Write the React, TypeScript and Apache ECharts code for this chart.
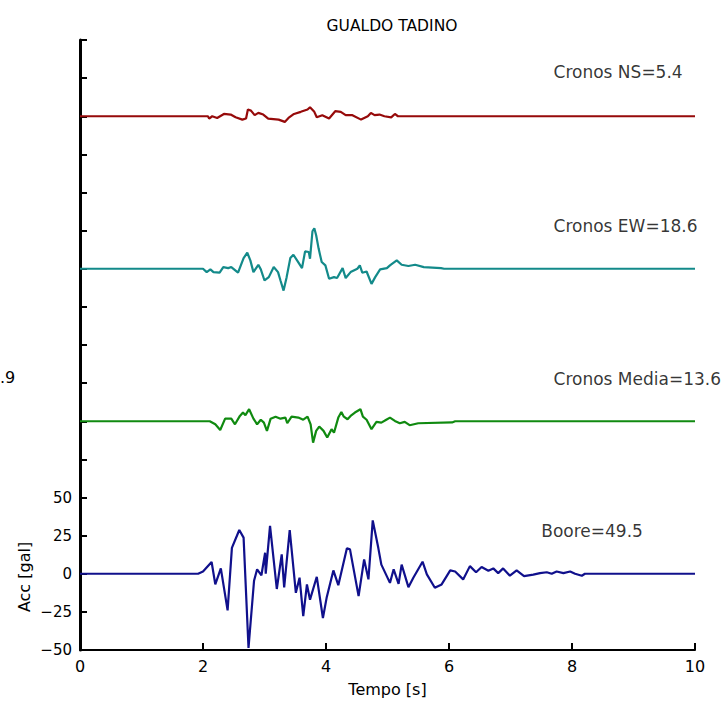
import React, { useEffect, useRef } from "react";
import * as echarts from "echarts";

const TITLE = "GUALDO TADINO";
const X_NAME = "Tempo [s]";
const Y_NAME = "Acc [gal]";
const X_TICKS = [0, 2, 4, 6, 8, 10];
const Y_LABELLED = [-50, -25, 0, 25, 50];

const SERIES_NAMES = ["Cronos NS=5.4", "Cronos EW=18.6", "Cronos Media=13.6", "Boore=49.5"];
const OFFSETS = [300, 200, 100, 0];
const COLORS = ["#960a0a", "#138a8a", "#108a10", "#10108c"];
const LABEL_POS = [
  [7.7, 329],
  [7.7, 228],
  [7.7, 128],
  [7.5, 28],
];

const NS: [number, number][] = [
  [0, 0], [2.08, 0], [2.1, -1.5], [2.15, 0], [2.23, -1.1], [2.34, 1.5], [2.45, 1.1], [2.53, -0.7],
  [2.64, -2.2], [2.7, -1.5], [2.73, 4.4], [2.78, 3.7], [2.84, 0.7], [2.9, 2.2], [2.98, 1.1],
  [3.06, -1.5], [3.23, -2.2], [3.33, -3.7], [3.39, -1.1], [3.48, 1.5], [3.59, 2.9], [3.7, 4.4],
  [3.74, 5.9], [3.81, 2.9], [3.85, -0.7], [3.94, 0.7], [4.05, -1.5], [4.15, 3.3], [4.24, 2.9],
  [4.32, 0.7], [4.43, 0.7], [4.57, -2.2], [4.68, 0], [4.73, 2.2], [4.79, 0.7], [4.87, 1.1],
  [4.95, 0], [5.06, -0.7], [5.12, 1.5], [5.17, 0], [10, 0],
];

const EW: [number, number][] = [
  [0, 0], [2.0, 0], [2.06, -2.2], [2.12, -0.4], [2.17, -2.2], [2.27, -2.6], [2.33, 1.1], [2.41, 0.4],
  [2.46, 1.1], [2.57, -2.6], [2.66, 7], [2.72, 10.5], [2.77, 5.5], [2.82, -2.2], [2.9, 2.6],
  [2.94, -0.4], [3.0, -7.7], [3.07, -5.5], [3.15, 1.1], [3.22, -2.2], [3.26, -7.7], [3.31, -14.3],
  [3.36, -5.5], [3.42, 7], [3.47, 9.2], [3.54, 4.8], [3.61, 0.4], [3.66, 11.4], [3.72, 11],
  [3.74, 6.6], [3.78, 24.6], [3.81, 26.5], [3.84, 22], [3.88, 13.2], [3.93, 4.4], [3.99, 2.2], [4.05, -6.6],
  [4.13, -5.5], [4.18, -6.1], [4.27, 0.4], [4.32, -6.1], [4.4, -2.2], [4.51, 0], [4.55, 2.2],
  [4.59, -2.6], [4.66, -1.8], [4.74, -9.9], [4.8, -5.5], [4.88, -0.4], [4.99, 0.4], [5.04, 2.2],
  [5.15, 5.5], [5.23, 2.6], [5.34, 1.8], [5.45, 2.6], [5.59, 1.1], [5.87, 0.4], [5.92, 0], [10, 0],
];

const MEDIA: [number, number][] = [
  [0, 0], [2.11, 0], [2.2, -2], [2.28, -5.7], [2.36, 1.7], [2.46, 1.7], [2.52, -2], [2.6, 3.5],
  [2.65, 5.7], [2.69, 4], [2.75, 7.9], [2.82, 1.7], [2.88, -2], [2.94, 1], [2.99, -0.9],
  [3.04, -6.3], [3.1, 1.7], [3.18, 3], [3.26, 1.7], [3.34, 2.4], [3.37, -1.3], [3.44, 3],
  [3.55, 2.4], [3.63, 1], [3.7, 3], [3.75, -2], [3.79, -14], [3.84, -6.3], [3.89, -3.5],
  [3.96, -6.3], [4.02, -10.7], [4.09, -5.2], [4.13, -7.5], [4.2, 2.4], [4.25, 6.1], [4.29, 3],
  [4.35, 1.3], [4.4, 3.5], [4.47, 5.7], [4.56, 7.9], [4.6, 3], [4.66, 1], [4.74, -5.2],
  [4.82, -0.4], [4.9, -0.9], [4.98, 1], [5.04, 2.4], [5.12, 0.2], [5.2, -1.3], [5.28, -0.4],
  [5.36, -2.6], [5.5, -1.3], [6.05, -0.8], [6.1, 0], [10, 0],
];

const BOORE: [number, number][] = [
  [0, 0], [1.92, 0], [2.0, 1.5], [2.14, 7.7], [2.2, -7], [2.29, 3.5], [2.4, -24], [2.47, 17],
  [2.59, 28.7], [2.66, 23.7], [2.74, -48.7], [2.83, -4.6], [2.88, 2.9], [2.95, -1], [3.01, 13.8],
  [3.02, 0], [3.09, 31.4], [3.2, -10], [3.28, 12.7], [3.32, -9], [3.41, 28.7], [3.51, -12.5],
  [3.57, -2.6], [3.63, -27.8], [3.69, -7], [3.74, -17], [3.85, -2], [3.95, -29], [4.01, -15.8],
  [4.12, 2.2], [4.2, -7.5], [4.34, 16.7], [4.39, 16], [4.53, -14.7], [4.62, 9.4], [4.69, -3.7],
  [4.76, 35], [4.85, 17], [4.9, 6], [5.04, -6], [5.1, 2.9], [5.18, -6.6], [5.23, 6], [5.34, -8.8],
  [5.42, -2.6], [5.57, 7.9], [5.64, -0.4], [5.77, -9.2], [5.88, -7], [6.02, 2.2], [6.1, 1.5],
  [6.23, -3.7], [6.34, 5], [6.44, 1], [6.53, 4.4], [6.64, 2], [6.72, 3.5], [6.8, 0.4], [6.88, 3.5],
  [6.99, -1.3], [7.1, 2.2], [7.22, -1.5], [7.37, -0.6], [7.48, 0.4], [7.59, 1], [7.67, 0],
  [7.75, 1.5], [7.86, 0.4], [7.97, 1.5], [8.05, 0], [8.16, -1.3], [8.21, 0], [10, 0],
];

const TRACES = [NS, EW, MEDIA, BOORE];
const SIDE_TEXT = ".9";

const FONT = "DejaVu Sans";

export default function App() {
  const ref = useRef<HTMLDivElement>(null);
  useEffect(() => {
    if (!ref.current) return;
    const chart = echarts.init(ref.current, undefined, { renderer: "svg" });
    const lineSeries = TRACES.map((tr, i) => ({
      type: "line",
      name: SERIES_NAMES[i],
      data: tr.map(([t, v]) => [t, v + OFFSETS[i]]),
      showSymbol: false,
      symbol: "none",
      lineStyle: { color: COLORS[i], width: 2.2 },
      z: 3,
    }));
    const labelSeries = {
      type: "scatter",
      symbolSize: 0,
      data: SERIES_NAMES.map((n, i) => ({ value: LABEL_POS[i], name: n })),
      label: {
        show: true,
        position: "right",
        distance: 0,
        formatter: (p: any) => p.name,
        color: "#000",
        fontFamily: FONT,
        fontSize: 17,
      },
      silent: true,
    };
    chart.setOption({
      animation: false,
      backgroundColor: "#fff",
      title: {
        text: TITLE,
        left: 387,
        top: 13,
        textAlign: "center",
        textStyle: { fontFamily: FONT, fontSize: 15.5, fontWeight: "normal", color: "#000" },
      },
      graphic: [
        {
          type: "text",
          left: 0,
          top: 369,
          style: { text: SIDE_TEXT, fontFamily: FONT, fontSize: 16, fill: "#000" },
        },
        {
          type: "text",
          x: 24,
          y: 577,
          rotation: Math.PI / 2,
          style: {
            text: Y_NAME,
            fontFamily: FONT,
            fontSize: 16,
            fill: "#000",
            align: "center",
            verticalAlign: "middle",
          },
        },
      ],
      grid: { left: 80, right: 30, top: 40, bottom: 50, containLabel: false },
      xAxis: {
        type: "value",
        min: 0,
        max: 10,
        interval: 2,
        name: X_NAME,
        nameLocation: "middle",
        nameGap: 31,
        nameTextStyle: { fontFamily: FONT, fontSize: 16, color: "#000" },
        axisLine: { show: true, onZero: false, lineStyle: { color: "#000", width: 2 } },
        axisTick: { show: true, inside: true, length: 7, lineStyle: { color: "#000", width: 2 } },
        axisLabel: {
          fontFamily: FONT,
          fontSize: 16,
          color: "#000",
          margin: 8,
          formatter: (v: number) => (X_TICKS.includes(v) ? String(v) : ""),
        },
        splitLine: { show: false },
      },
      yAxis: {
        type: "value",
        min: -50,
        max: 350,
        interval: 25,
        axisLine: { show: true, onZero: false, lineStyle: { color: "#000", width: 3 } },
        axisTick: { show: true, inside: true, length: 7, lineStyle: { color: "#000", width: 2 } },
        axisLabel: {
          fontFamily: FONT,
          fontSize: 15,
          color: "#000",
          margin: 8,
          formatter: (v: number) => (Y_LABELLED.includes(v) ? (v < 0 ? "\u2212" + Math.abs(v) : String(v)) : ""),
        },
        splitLine: { show: false },
      },
      series: [...lineSeries, labelSeries],
    });
    return () => chart.dispose();
  }, []);
  return <div ref={ref} style={{ width: 725, height: 702, position: "absolute", left: 0, top: 0 }} />;
}
